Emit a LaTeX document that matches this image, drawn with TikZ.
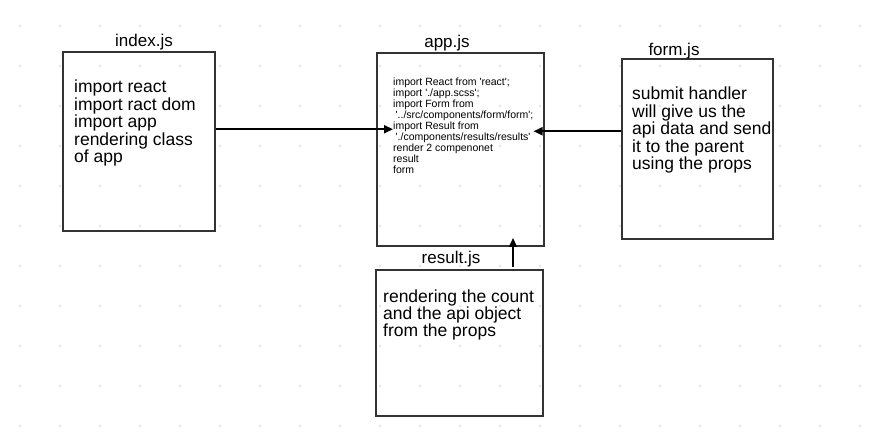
\documentclass[tikz,border=0pt]{standalone}
\usepackage{fontspec}
\setmainfont{Liberation Sans}
\usetikzlibrary{arrows.meta}

\newcommand{\sq}{\textquotesingle}

\tikzset{
	filebox/.style={draw=black!80, line width=1.2pt, minimum width=#1, inner sep=0pt},
	filename/.style={anchor=base, inner sep=0pt, font=\fontsize{17}{17}\selectfont},
	notes/.style={anchor=base west, inner sep=0pt, align=left, font=\fontsize{17.5}{17.5}\selectfont},
	code/.style={anchor=base west, inner sep=0pt, align=left, font=\fontsize{10.5}{11}\selectfont},
	flow/.style={line width=2pt, -{Triangle[length=9pt,width=8pt]}}
}

\begin{document}
\begin{tikzpicture}[x=1pt,y=-1pt]
		\useasboundingbox[fill=white] (0,0) rectangle (880,435);

		% background grid of dots
		\foreach \i in {0,...,21}
			\foreach \j in {0,...,10}
				\fill[black!11] (20+40*\i,26+40*\j) circle (1.3pt);

		% index.js (text placed by its last line)
		\node[filebox=152pt, minimum height=179pt] (index) at (139,141.5) {};
		\node[filename] (indexname) at (144,47) {index.js};
		\node[notes] (indextext) at (74,163) {import react\\import ract dom\\import app\\rendering class\\of app};

		% app.js
		\node[filebox=167pt, minimum height=193pt] (app) at (460.5,149.5) {};
		\node[filename] (appname) at (447,48) {app.js};
		\node[code] (apptext) at (393,174) {import React from \sq react\sq;\\import \sq./app.scss\sq;\\import Form from\\\hspace{2.5pt}\sq../src/components/form/form\sq;\\import Result from\\\hspace{2.5pt}\sq./components/results/results\sq\\render 2 compenonet\\result\\form};

		% form.js
		\node[filebox=151pt, minimum height=180pt] (form) at (697.5,149) {};
		\node[filename] (formname) at (674,56) {form.js};
		\node[notes] (formtext) at (632,170) {submit handler\\will give us the\\api data and send\\it to the parent\\using the props};

		% result.js
		\node[filebox=167pt, minimum height=146pt] (result) at (459.5,343) {};
		\node[filename] (resultname) at (451,264) {result.js};
		\node[notes] (resulttext) at (383,337) {rendering the count\\and the api object\\from the props};

		% connectors
		\coordinate (appleft) at ([yshift=-3pt]apptext.west);
		\coordinate (appright) at ([yshift=-5pt]apptext.east);
		\coordinate (resultout) at (513,267);
		\coordinate (appin) at (513,238);
		\draw[flow] (index.east |- appleft) -- (appleft);
		\draw[flow] (form.west |- appright) -- (appright);
		\draw[flow] (resultout) -- (appin);
	\end{tikzpicture}
\end{document}
